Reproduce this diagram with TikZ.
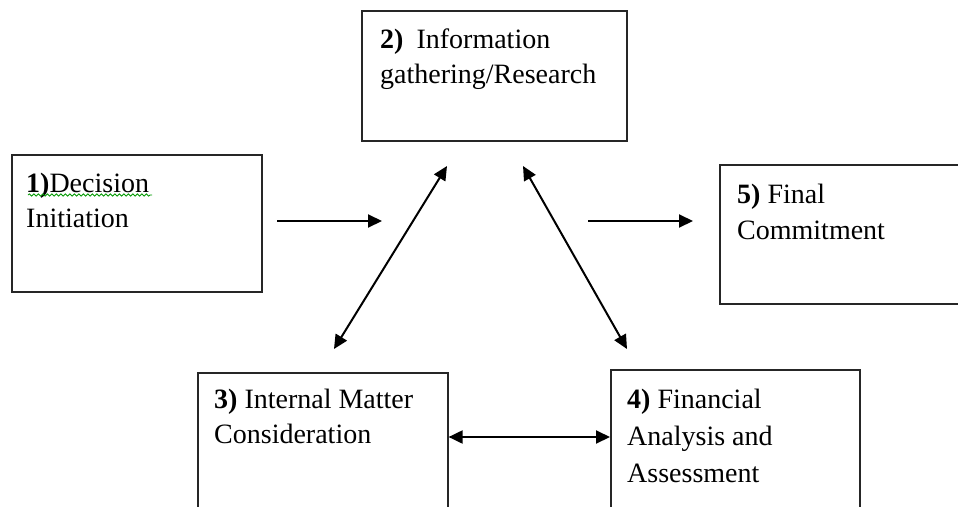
\documentclass[tikz,border=0pt]{standalone}
\usepackage{fontspec}
\setmainfont{Liberation Serif}
\usetikzlibrary{arrows.meta,decorations.pathmorphing}

\begin{document}
\begin{tikzpicture}[x=1pt,y=-1pt,
  stage/.style={draw=black!85, line width=1.6pt, rectangle, inner sep=0pt, anchor=north west},
  caption/.style={anchor=base west, inner sep=0pt, font=\fontsize{28}{35}\selectfont},
  tip/.tip={Triangle[length=14pt,width=13pt]},
  flow/.style={line width=2pt, -tip},
  twoway/.style={line width=2pt, tip-tip},
  spell/.style={draw=green!60!black, line width=0.8pt,
    decorate, decoration={snake, segment length=4.5pt, amplitude=1.1pt}}]

\useasboundingbox (0,0) rectangle (958,506);
\fill[white] (0,0) rectangle (958,506);
\clip (0,0) rectangle (958,506);

% stage boxes
\node[stage, minimum width=250pt, minimum height=137pt] (b1) at (11,154) {};
\node[stage, minimum width=265pt, minimum height=130pt] (b2) at (361,10) {};
\node[stage, minimum width=250pt, minimum height=160pt] (b3) at (197,372) {};
\node[stage, minimum width=249pt, minimum height=160pt] (b4) at (610,369) {};
\node[stage, minimum width=260pt, minimum height=139pt] (b5) at (719,164) {};

% stage captions
\node[caption] (t1) at (26,192) {\parbox[t]{230pt}{\textbf{1)}Decision\\Initiation}};
\node[caption] (t2) at (380,48) {\parbox[t]{240pt}{\textbf{2)}\hspace{13pt}Information\\gathering/Research}};
\node[caption] (t3) at (214,408) {\parbox[t]{230pt}{\textbf{3)} Internal Matter\\Consideration}};
\node[caption] (t4) at (627,408) {\parbox[t]{230pt}{\fontsize{28}{37}\selectfont\textbf{4)} Financial\\Analysis and\\Assessment}};
\node[caption] (t5) at (737,203) {\parbox[t]{210pt}{\fontsize{28}{36}\selectfont\textbf{5)} Final\\Commitment}};

% spelling mark under the first caption
\coordinate (s1) at (28,195);
\coordinate (s2) at (152,195);
\draw[spell] (s1) -- (s2);

% connector ends
\coordinate (a1s) at (277,221);
\coordinate (a1e) at (382,221);
\coordinate (a5s) at (588,221);
\coordinate (a5e) at (693,221);
\coordinate (dl1) at (447,166);
\coordinate (dl2) at (334,349);
\coordinate (dr1) at (523,166);
\coordinate (dr2) at (627,349);
\coordinate (m34) at (530,437);

% connectors
\draw[flow] (a1s) -- (a1e);
\draw[flow] (a5s) -- (a5e);
\draw[twoway] (dl1) -- (dl2);
\draw[twoway] (dr1) -- (dr2);
\draw[twoway] (b3.east |- m34) -- (b4.west |- m34);
\end{tikzpicture}
\end{document}
